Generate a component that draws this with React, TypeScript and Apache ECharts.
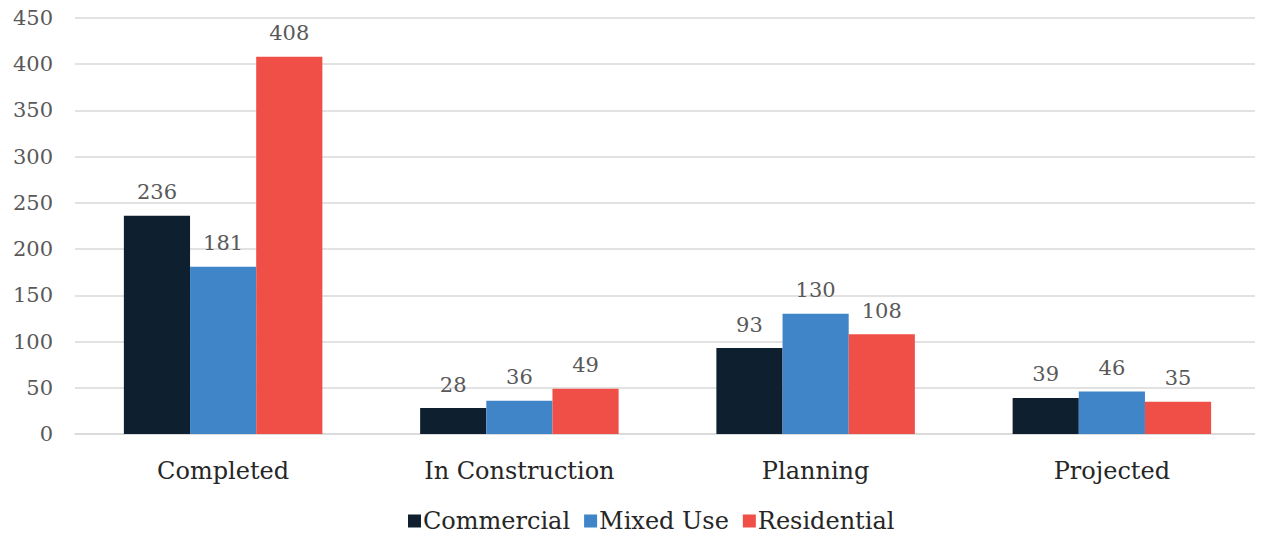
import React, { useEffect, useRef } from "react";
import * as echarts from "echarts";

const categories = ["Completed", "In Construction", "Planning", "Projected"];
const commercial = [236, 28, 93, 39];
const mixedUse = [181, 36, 130, 46];
const residential = [408, 49, 108, 35];
const seriesNames = ["Commercial", "Mixed Use", "Residential"];
const colors = ["#0E1F2F", "#3F85C7", "#EF4F46"];

const FONT = "DejaVu Serif";

export default function App() {
  const ref = useRef<HTMLDivElement>(null);
  useEffect(() => {
    if (!ref.current) return;
    const chart = echarts.init(ref.current, null, { renderer: "svg" });
    const values = [commercial, mixedUse, residential];
    chart.setOption({
      animation: false,
      textStyle: { fontFamily: FONT },
      grid: { left: 75, right: 3, top: 18, bottom: 105, containLabel: false },
      legend: {
        bottom: 1,
        left: 403,
        itemWidth: 13,
        itemHeight: 13,
        itemGap: 14,
        icon: "rect",
        textStyle: { fontFamily: FONT, fontSize: 24, color: "#262626", padding: [0, 0, 0, -3] },
        data: seriesNames,
      },
      xAxis: {
        type: "category",
        data: categories,
        axisLine: { lineStyle: { color: "#D9D9D9", width: 1.5 } },
        axisTick: { show: false },
        axisLabel: { fontFamily: FONT, fontSize: 24, color: "#262626", margin: 25 },
      },
      yAxis: {
        type: "value",
        min: 0,
        max: 450,
        interval: 50,
        axisLine: { show: false },
        axisTick: { show: false },
        splitLine: { lineStyle: { color: "#D9D9D9", width: 1.5 } },
        axisLabel: { fontFamily: FONT, fontSize: 21, color: "#595959", margin: 22 },
      },
      series: seriesNames.map((name, i) => ({
        name,
        type: "bar",
        data: values[i],
        barGap: "0%",
        barCategoryGap: "33%",
        itemStyle: { color: colors[i] },
        label: {
          show: true,
          position: "top",
          distance: 13,
          fontFamily: FONT,
          fontSize: 21,
          color: "#595959",
        },
      })),
    });
    return () => chart.dispose();
  }, []);
  return <div ref={ref} style={{ width: 1263, height: 539, margin: -8 }} />;
}
